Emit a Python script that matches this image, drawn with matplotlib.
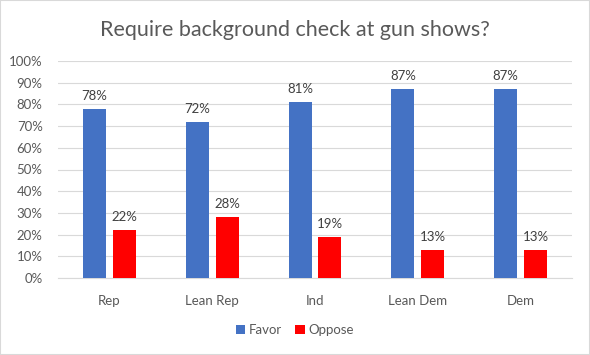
import matplotlib.pyplot as plt
import numpy as np

plt.rcParams['font.family'] = ['Lato', 'DejaVu Sans']

categories = ["Rep", "Lean Rep", "Ind", "Lean Dem", "Dem"]
favor = [78, 72, 81, 87, 87]
oppose = [22, 28, 19, 13, 13]

fig = plt.figure(figsize=(5.9, 3.55), dpi=100)
ax = fig.add_axes([58 / 590, 1 - 278 / 355, (572 - 58) / 590, (278 - 61) / 355])

x = np.arange(len(categories))
w = 0.225
off = 0.145
b1 = ax.bar(x - off, favor, w, color="#4472c4", label="Favor", zorder=3)
b2 = ax.bar(x + off, oppose, w, color="#ff0000", label="Oppose", zorder=3)

for bars, vals in ((b1, favor), (b2, oppose)):
    for r, v in zip(bars, vals):
        ax.text(r.get_x() + r.get_width() / 2, v + 3.3, f"{v}%",
                ha="center", va="bottom", fontsize=9.5, color="#404040")

ax.set_xlim(-0.5, len(categories) - 0.5)
ax.set_ylim(0, 100)
ax.set_yticks(range(0, 101, 10))
ax.set_yticklabels([f"{t}%" for t in range(0, 101, 10)])
ax.set_xticks(x)
ax.set_xticklabels(categories)
ax.tick_params(axis="both", length=0, labelsize=9.5, colors="#595959")
ax.tick_params(axis="x", pad=12)
ax.tick_params(axis="y", pad=11)
ax.grid(axis="y", color="#d9d9d9", lw=0.8, zorder=0)
for s in ("top", "right", "left"):
    ax.spines[s].set_visible(False)
ax.spines["bottom"].set_color("#d9d9d9")

fig.text(0.5, 1 - 30 / 355, "Require background check at gun shows?",
         ha="center", va="center", fontsize=15.5, color="#595959")

fig.legend(handles=[b1, b2], loc="center", bbox_to_anchor=(0.5, 1 - 330 / 355),
           ncol=2, frameon=False, fontsize=9.5, handlelength=0.7, handleheight=0.7,
           handletextpad=0.3, columnspacing=1.0, labelcolor="#595959")

fig.patches.append(plt.Rectangle((0, 0), 1, 1, transform=fig.transFigure,
                                 fill=False, edgecolor="#d9d9d9", lw=1.5))
fig.savefig("out.png", dpi=100)
